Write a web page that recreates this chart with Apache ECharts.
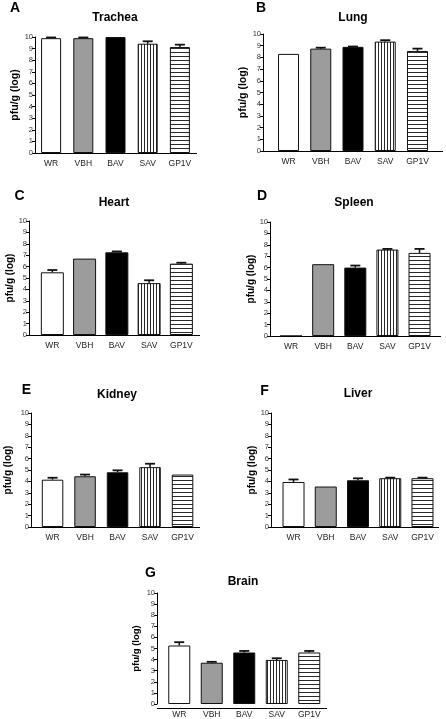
<!DOCTYPE html>
<html>
<head>
<meta charset="utf-8">
<script src="https://cdn.jsdelivr.net/npm/echarts@6/dist/echarts.min.js"></script>
<style>
html,body{margin:0;padding:0;background:#fff;}
#chart{width:446px;height:719px;}
</style>
</head>
<body>
<div id="chart"></div>
<script>
// ---- data ----
const categories = ['WR', 'VBH', 'BAV', 'SAV', 'GP1V'];
const yTickMin = 0, yTickMax = 10, yTickStep = 1;
const panelLetters = ['A', 'B', 'C', 'D', 'E', 'F', 'G'];
const organNames = ['Trachea', 'Lung', 'Heart', 'Spleen', 'Kidney', 'Liver', 'Brain'];
const yAxisName = 'pfu/g (log)';

const tracheaMean = [9.9, 9.9, 10.0, 9.42, 9.14];
const tracheaSem  = [0.06, 0.06, 0, 0.21, 0.2];
const lungMean    = [8.3, 8.75, 8.9, 9.35, 8.55];
const lungSem     = [0, 0.08, 0.03, 0.12, 0.2];
const heartMean   = [5.5, 6.7, 7.25, 4.55, 6.26];
const heartSem    = [0.2, 0, 0.08, 0.25, 0.08];
const spleenMean  = [0, 6.3, 6.0, 7.58, 7.29];
const spleenSem   = [0, 0, 0.18, 0.06, 0.35];
const kidneyMean  = [4.15, 4.45, 4.8, 5.25, 4.6];
const kidneySem   = [0.17, 0.15, 0.17, 0.3, 0];
const liverMean   = [3.95, 3.55, 4.1, 4.28, 4.28];
const liverSem    = [0.22, 0, 0.17, 0.05, 0.05];
const brainMean   = [5.27, 3.72, 4.64, 3.97, 4.64];
const brainSem    = [0.3, 0.08, 0.14, 0.15, 0.14];

const allMeans = [tracheaMean, lungMean, heartMean, spleenMean, kidneyMean, liverMean, brainMean];
const allSems  = [tracheaSem, lungSem, heartSem, spleenSem, kidneySem, liverSem, brainSem];

// ---- layout (pixels) ----
const layout = [
  {axisX: 35,  catL: 35,    catR: 196,   end: 197, top: 37,  bottom: 153, barW: 20, nameGap: 14, nameSize: 10.5, letter: [15, 8.5],   title: [115, 17.5]},
  {axisX: 263, catL: 272.4, catR: 433.6, end: 443, top: 34,  bottom: 151, barW: 21, nameGap: 13, nameSize: 10.5, letter: [261, 8.5],  title: [353, 17.5]},
  {axisX: 29,  catL: 36.2,  catR: 197.5, end: 200, top: 221, bottom: 335, barW: 23, nameGap: 12, nameSize: 10,   letter: [19.5, 196], title: [114, 202.5]},
  {axisX: 270, catL: 275,   catR: 435.6, end: 441, top: 222, bottom: 336, barW: 22, nameGap: 12, nameSize: 10,   letter: [262, 196],  title: [354, 203]},
  {axisX: 31,  catL: 36.3,  catR: 198.8, end: 200, top: 413, bottom: 527, barW: 21.5, nameGap: 18, nameSize: 10, letter: [26.5, 390], title: [117, 395]},
  {axisX: 271, catL: 277.4, catR: 438.6, end: 439, top: 413, bottom: 527, barW: 22, nameGap: 10, nameSize: 10,   letter: [264.5, 391], title: [358, 393.5]},
  {axisX: 157, catL: 163,   catR: 325.5, end: 327, top: 593, bottom: 708, barW: 22, nameGap: 16, nameSize: 9.5, letter: [150.5, 573], title: [243, 582]}
];

const FONT = '"Liberation Sans", Arial, Helvetica, sans-serif';

function stripeCanvas(vertical) {
  const c = document.createElement('canvas');
  c.width = vertical ? 3 : 4;
  c.height = 4;
  const g = c.getContext('2d');
  g.fillStyle = '#ffffff';
  g.fillRect(0, 0, c.width, c.height);
  g.fillStyle = '#2a2a2a';
  if (vertical) g.fillRect(0, 0, 1, c.height);
  else g.fillRect(0, 0, c.width, 1);
  return c;
}
const fills = [
  '#ffffff',
  '#9c9c9c',
  '#000000',
  {image: stripeCanvas(true), repeat: 'repeat'},
  {image: stripeCanvas(false), repeat: 'repeat'}
];

const grids = [], xAxes = [], yAxes = [], series = [], graphics = [];

layout.forEach((L, i) => {
  grids.push({left: L.catL, top: L.top, width: L.catR - L.catL, height: L.bottom - L.top, containLabel: false});
  xAxes.push({
    type: 'category', gridIndex: i, data: categories,
    axisLine: {show: false},
    axisTick: {show: false},
    axisLabel: {fontSize: 8.5, color: '#222', margin: 6, fontFamily: FONT, interval: 0}
  });
  yAxes.push({
    type: 'value', gridIndex: i, min: yTickMin, max: yTickMax, interval: yTickStep,
    offset: L.catL - L.axisX,
    axisLine: {show: true, lineStyle: {color: '#000', width: 1}},
    axisTick: {show: true, length: 3, lineStyle: {color: '#000'}},
    axisLabel: {fontSize: 7.5, color: '#333', margin: 2, fontFamily: FONT},
    splitLine: {show: false},
    name: yAxisName, nameLocation: 'middle', nameGap: L.nameGap,
    nameTextStyle: {fontSize: L.nameSize, fontWeight: 'bold', color: '#000', fontFamily: FONT}
  });
  series.push({
    type: 'bar', xAxisIndex: i, yAxisIndex: i, barWidth: L.barW,
    data: allMeans[i].map((v, j) => ({value: v, itemStyle: {color: fills[j]}})),
    itemStyle: {borderColor: '#111', borderWidth: 1},
    silent: true, animation: false
  });
  const errData = [];
  allMeans[i].forEach((v, j) => { if (allSems[i][j] > 0) errData.push([j, v, v + allSems[i][j]]); });
  series.push({
    type: 'custom', xAxisIndex: i, yAxisIndex: i, z: 5, animation: false, silent: true,
    encode: {x: 0, y: [1, 2]},
    data: errData,
    renderItem: function (params, api) {
      const xi = api.value(0);
      const p0 = api.coord([xi, api.value(1)]);
      const p1 = api.coord([xi, api.value(2)]);
      return {
        type: 'group',
        children: [
          {type: 'line', shape: {x1: p0[0], y1: p0[1], x2: p1[0], y2: p1[1]}, style: {stroke: '#111', lineWidth: 1.5}},
          {type: 'line', shape: {x1: p1[0] - 5, y1: p1[1], x2: p1[0] + 5, y2: p1[1]}, style: {stroke: '#111', lineWidth: 1.8}}
        ]
      };
    }
  });
  graphics.push({type: 'line', silent: true, z: 10,
    shape: {x1: L.axisX, y1: L.bottom + 0.5, x2: L.end, y2: L.bottom + 0.5},
    style: {stroke: '#000', lineWidth: 1}});
  graphics.push({type: 'text', silent: true, x: L.letter[0], y: L.letter[1],
    style: {text: panelLetters[i], fontSize: 14, fontWeight: 'bold', fontFamily: FONT, fill: '#000',
      align: 'center', verticalAlign: 'middle', textAlign: 'center', textVerticalAlign: 'middle'}});
  graphics.push({type: 'text', silent: true, x: L.title[0], y: L.title[1],
    style: {text: organNames[i], fontSize: 12, fontWeight: 'bold', fontFamily: FONT, fill: '#000',
      align: 'center', verticalAlign: 'middle', textAlign: 'center', textVerticalAlign: 'middle'}});
});

const chart = echarts.init(document.getElementById('chart'), null, {renderer: 'canvas'});
chart.setOption({
  animation: false,
  backgroundColor: '#ffffff',
  grid: grids,
  xAxis: xAxes,
  yAxis: yAxes,
  series: series,
  graphic: graphics
});
</script>
</body>
</html>
